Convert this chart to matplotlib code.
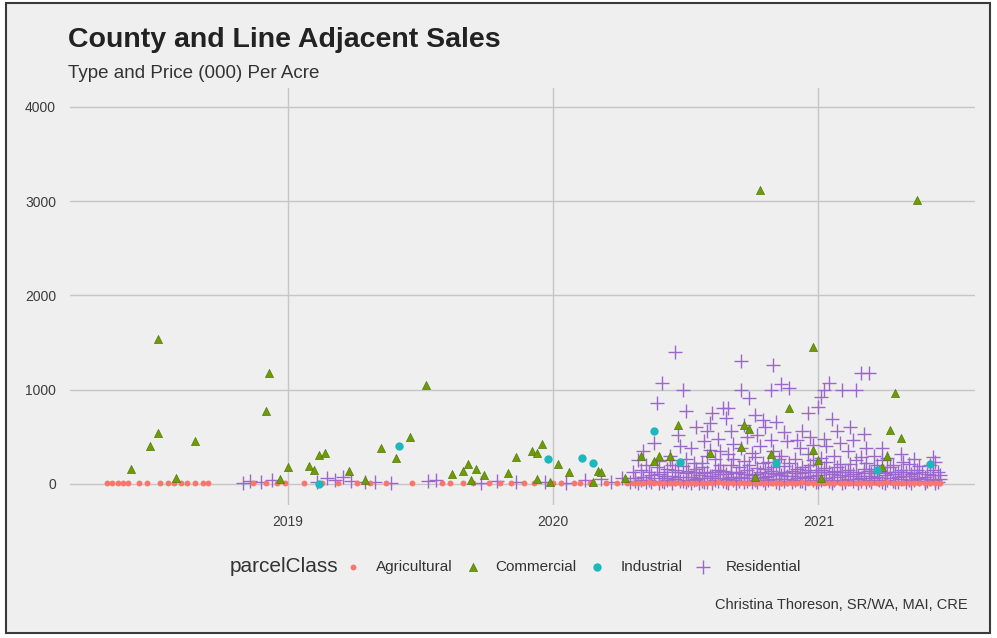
import matplotlib
matplotlib.use("Agg")
import matplotlib.pyplot as plt
from matplotlib.patches import Rectangle

plt.rcParams['font.family'] = ['Liberation Sans', 'DejaVu Sans']

# values: (decimal year, price per acre in 000)
agricultural = [
    (2018.32, 10), (2018.34, 5), (2018.36, 12), (2018.38, 8), (2018.40, 6), (2018.44, 10),
    (2018.47, 5), (2018.52, 8), (2018.55, 12), (2018.57, 6), (2018.60, 10), (2018.62, 4),
    (2018.65, 9), (2018.68, 7), (2018.70, 11),
    (2018.87, 6), (2018.92, 10), (2018.96, 8), (2018.99, 12),
    (2019.06, 8), (2019.13, 5), (2019.19, 10), (2019.26, 6), (2019.31, 12), (2019.37, 8), (2019.47, 6),
    (2019.58, 9), (2019.61, 5), (2019.66, 12), (2019.70, 7), (2019.76, 10), (2019.80, 6),
    (2019.84, 12), (2019.89, 8), (2019.93, 5),
    (2020.00, 10), (2020.03, 6), (2020.08, 12), (2020.10, 8), (2020.14, 5), (2020.20, 10), (2020.24, 7),
    (2020.28, 8), (2020.30, 12), (2020.32, 5), (2020.34, 10), (2020.36, 14), (2020.38, 6),
    (2020.40, 9), (2020.42, 4), (2020.44, 11), (2020.46, 7), (2020.48, 13), (2020.50, 5),
    (2020.52, 10), (2020.54, 8), (2020.56, 12), (2020.58, 4), (2020.60, 9), (2020.62, 14),
    (2020.64, 6), (2020.66, 10), (2020.68, 5), (2020.70, 12), (2020.72, 8), (2020.74, 4),
    (2020.76, 11), (2020.78, 7), (2020.80, 13), (2020.82, 5), (2020.84, 10), (2020.86, 8),
    (2020.88, 12), (2020.90, 4), (2020.92, 9), (2020.94, 14), (2020.96, 6), (2020.98, 10),
    (2021.00, 5), (2021.02, 12), (2021.04, 8), (2021.06, 4), (2021.08, 11), (2021.10, 7),
    (2021.12, 13), (2021.14, 5), (2021.16, 10), (2021.18, 8), (2021.20, 12), (2021.22, 4),
    (2021.24, 9), (2021.26, 14), (2021.28, 6), (2021.30, 10), (2021.32, 5), (2021.34, 12),
    (2021.36, 8), (2021.38, 4), (2021.40, 11), (2021.42, 7), (2021.44, 13), (2021.46, 5),
]

commercial = [
    (2018.41, 160), (2018.48, 400), (2018.51, 1540), (2018.51, 540), (2018.58, 60), (2018.65, 455),
    (2018.92, 775), (2018.93, 1175), (2018.97, 50), (2019.00, 180), (2019.08, 190), (2019.10, 150),
    (2019.12, 310), (2019.14, 330), (2019.23, 140), (2019.29, 40), (2019.35, 380), (2019.41, 275),
    (2019.46, 500), (2019.52, 1050), (2019.62, 105), (2019.66, 140), (2019.68, 210), (2019.69, 40),
    (2019.71, 160), (2019.74, 95), (2019.83, 115), (2019.86, 285), (2019.92, 350), (2019.94, 330),
    (2019.94, 50), (2019.96, 420), (2019.99, 20), (2020.02, 210), (2020.06, 125), (2020.15, 20),
    (2020.17, 140), (2020.18, 125), (2020.27, 60), (2020.33, 300), (2020.38, 245), (2020.40, 300),
    (2020.44, 300), (2020.47, 625), (2020.59, 330), (2020.71, 390), (2020.72, 625), (2020.74, 580),
    (2020.76, 75), (2020.78, 3120), (2020.82, 320), (2020.89, 800), (2020.98, 1450), (2020.98, 360),
    (2021.00, 255), (2021.01, 60), (2021.24, 180), (2021.26, 290), (2021.27, 570), (2021.29, 965),
    (2021.31, 490), (2021.37, 3010),
]

industrial = [
    (2019.12, 0), (2019.42, 400), (2019.98, 265), (2020.11, 275), (2020.15, 225), (2020.38, 560),
    (2020.48, 235), (2020.84, 225), (2021.22, 150), (2021.42, 210),
]

residential = [
    (2018.83, 10), (2018.86, 25), (2018.90, 15), (2018.94, 35), (2019.11, 20), (2019.15, 60),
    (2019.18, 40), (2019.21, 75), (2019.24, 30), (2019.29, 20), (2019.33, 15), (2019.39, 10),
    (2019.53, 25), (2019.56, 45), (2019.73, 10), (2019.79, 30), (2019.86, 15), (2019.97, 20),
    (2020.05, 10), (2020.12, 35), (2020.18, 55), (2020.22, 20), (2020.26, 65),
    (2020.29, 20), (2020.31, 60), (2020.33, 150), (2020.34, 350), (2020.32, 10), (2020.36, 40),
    (2020.37, 90), (2020.35, 200), (2020.38, 430),
    (2020.39, 860), (2020.41, 1070), (2020.40, 5), (2020.41, 30), (2020.42, 80), (2020.43, 160),
    (2020.44, 300), (2020.45, 10), (2020.46, 50), (2020.46, 1400), (2020.47, 120), (2020.44, 250),
    (2020.48, 400), (2020.47, 520),
    (2020.49, 1000), (2020.50, 775), (2020.50, 15), (2020.51, 35), (2020.52, 70), (2020.51, 140),
    (2020.53, 220), (2020.52, 380), (2020.54, 600), (2020.55, 5), (2020.56, 25), (2020.55, 60),
    (2020.57, 110), (2020.56, 180), (2020.58, 300), (2020.57, 450), (2020.58, 560),
    (2020.60, 10), (2020.61, 40), (2020.60, 80), (2020.62, 150), (2020.61, 260), (2020.63, 350),
    (2020.62, 480), (2020.59, 650), (2020.60, 750), (2020.64, 800), (2020.65, 20), (2020.66, 50),
    (2020.65, 100), (2020.67, 200), (2020.66, 320), (2020.68, 420), (2020.67, 560), (2020.65, 700),
    (2020.66, 800),
    (2020.69, 10), (2020.70, 30), (2020.71, 70), (2020.70, 130), (2020.72, 240), (2020.71, 380),
    (2020.73, 500), (2020.72, 620), (2020.71, 1000), (2020.71, 1300), (2020.74, 910), (2020.75, 15),
    (2020.76, 45), (2020.75, 90), (2020.77, 170), (2020.76, 280), (2020.78, 400), (2020.77, 520),
    (2020.79, 680), (2020.76, 730),
    (2020.80, 5), (2020.81, 35), (2020.80, 75), (2020.82, 140), (2020.81, 230), (2020.83, 350),
    (2020.82, 470), (2020.80, 600), (2020.84, 660), (2020.83, 1260), (2020.82, 1000), (2020.85, 10),
    (2020.86, 55), (2020.85, 110), (2020.87, 190), (2020.86, 300), (2020.88, 450), (2020.87, 550),
    (2020.86, 1060),
    (2020.89, 1020), (2020.90, 20), (2020.91, 40), (2020.90, 80), (2020.92, 160), (2020.91, 260),
    (2020.93, 380), (2020.92, 470), (2020.94, 560), (2020.95, 10), (2020.96, 60), (2020.95, 120),
    (2020.97, 200), (2020.96, 320), (2020.98, 410), (2020.97, 500), (2020.96, 750),
    (2021.00, 15), (2021.01, 35), (2021.00, 90), (2021.02, 170), (2021.01, 270), (2021.03, 400),
    (2021.02, 480), (2021.00, 815), (2021.01, 920), (2021.02, 1000), (2021.05, 5), (2021.06, 45),
    (2021.05, 100), (2021.07, 180), (2021.06, 300), (2021.08, 430), (2021.07, 560), (2021.05, 690),
    (2021.04, 1070),
    (2021.10, 20), (2021.11, 50), (2021.10, 120), (2021.12, 210), (2021.11, 350), (2021.13, 470),
    (2021.12, 600), (2021.09, 1000), (2021.15, 10), (2021.16, 30), (2021.15, 80), (2021.17, 160),
    (2021.16, 280), (2021.18, 380), (2021.17, 530), (2021.16, 1180), (2021.14, 1000),
    (2021.20, 15), (2021.21, 60), (2021.20, 110), (2021.22, 200), (2021.21, 300), (2021.19, 1180),
    (2021.25, 5), (2021.26, 40), (2021.25, 90), (2021.27, 180), (2021.26, 270), (2021.24, 380),
    (2021.30, 20), (2021.31, 50), (2021.30, 120), (2021.32, 230), (2021.31, 320), (2021.35, 10),
    (2021.36, 40), (2021.35, 80), (2021.37, 150), (2021.36, 260),
    (2021.40, 5), (2021.41, 30), (2021.40, 70), (2021.42, 200), (2021.43, 280), (2021.45, 15),
    (2021.46, 50), (2021.45, 120), (2021.44, 230),
    (2020.31, 30), (2020.34, 70), (2020.37, 20), (2020.40, 100), (2020.43, 45), (2020.45, 85),
    (2020.48, 25), (2020.50, 110), (2020.53, 40), (2020.55, 90), (2020.58, 20), (2020.60, 60),
    (2020.63, 100), (2020.64, 30), (2020.67, 75), (2020.69, 115), (2020.72, 20), (2020.74, 60),
    (2020.77, 100), (2020.79, 35), (2020.81, 85), (2020.84, 20), (2020.86, 95), (2020.88, 50),
    (2020.91, 110), (2020.93, 25), (2020.95, 70), (2020.98, 40), (2021.00, 120), (2021.03, 60),
    (2021.05, 25), (2021.08, 90), (2021.10, 40), (2021.13, 100), (2021.15, 55), (2021.18, 20),
    (2021.20, 85), (2021.23, 45), (2021.25, 110), (2021.28, 30), (2021.30, 75), (2021.33, 20),
    (2021.35, 100), (2021.38, 50), (2021.40, 25), (2021.43, 90), (2021.44, 40),
    (2020.30, 130), (2020.32, 250), (2020.33, 45), (2020.35, 15), (2020.36, 120), (2020.38, 65),
    (2020.39, 180), (2020.40, 240), (2020.42, 15), (2020.42, 130), (2020.43, 60), (2020.45, 200),
    (2020.46, 150), (2020.47, 70), (2020.49, 30), (2020.49, 190), (2020.50, 260), (2020.52, 10),
    (2020.53, 120), (2020.54, 160), (2020.54, 50), (2020.56, 220), (2020.57, 15), (2020.58, 130),
    (2020.59, 80), (2020.59, 360), (2020.61, 120), (2020.62, 30), (2020.63, 200), (2020.64, 140),
    (2020.64, 60), (2020.66, 10), (2020.67, 130), (2020.68, 40), (2020.68, 260), (2020.70, 180),
    (2020.70, 60), (2020.72, 100), (2020.73, 150), (2020.73, 30), (2020.74, 200), (2020.75, 330),
    (2020.77, 20), (2020.78, 130), (2020.78, 60), (2020.79, 220), (2020.80, 160), (2020.81, 110),
    (2020.83, 50), (2020.83, 180), (2020.84, 100), (2020.85, 260), (2020.87, 30), (2020.87, 130),
    (2020.88, 80), (2020.89, 220), (2020.90, 140), (2020.92, 60), (2020.93, 110), (2020.94, 180),
    (2020.94, 30), (2020.96, 150), (2020.97, 80), (2020.98, 250), (2020.99, 130), (2020.99, 20),
    (2021.01, 150), (2021.02, 60), (2021.03, 230), (2021.04, 130), (2021.04, 30), (2021.06, 140),
    (2021.07, 70), (2021.08, 210), (2021.09, 120), (2021.09, 10), (2021.11, 150), (2021.12, 80),
    (2021.13, 30), (2021.14, 250), (2021.14, 130), (2021.16, 60), (2021.17, 110), (2021.18, 220),
    (2021.19, 140), (2021.19, 40), (2021.21, 160), (2021.22, 70), (2021.23, 130), (2021.24, 20),
    (2021.24, 250), (2021.26, 120), (2021.27, 60), (2021.28, 200), (2021.29, 100), (2021.29, 20),
    (2021.31, 150), (2021.32, 80), (2021.33, 130), (2021.34, 40), (2021.34, 210), (2021.36, 110),
    (2021.37, 60), (2021.38, 190), (2021.39, 130), (2021.41, 100), (2021.42, 50), (2021.43, 150),
    (2021.44, 10), (2021.46, 90),
]

year_ticks = [2019, 2020, 2021]
price_ticks = [0, 1000, 2000, 3000, 4000]

bg = "#efefef"
grid_col = "#c6c6c6"

fig = plt.figure(figsize=(9.97, 6.38), dpi=100)
fig.patch.set_facecolor("white")
frame = Rectangle((6 / 997, 5 / 638), 984 / 997, 630 / 638, transform=fig.transFigure,
                  facecolor=bg, edgecolor="#3a3a3a", linewidth=1.5, zorder=-10)
fig.patches.append(frame)

ax = fig.add_axes([70 / 997, 1 - 505 / 638, 905 / 997, 417 / 638])
ax.set_zorder(2)
ax.set_facecolor(bg)


def unzip(pts):
    return [p[0] for p in pts], [p[1] for p in pts]


x, y = unzip(residential)
h_res = ax.scatter(x, y, marker="+", s=105, linewidths=1.0, color="#9d66cc", zorder=3)
x, y = unzip(agricultural)
h_agr = ax.scatter(x, y, marker="o", s=18, color="#f8766d", linewidths=0, zorder=4)
x, y = unzip(commercial)
h_com = ax.scatter(x, y, marker="^", s=34, color="#6d9c08", edgecolors="#557a05", linewidths=0.5, zorder=5)
x, y = unzip(industrial)
h_ind = ax.scatter(x, y, marker="o", s=36, color="#1bb8bd", linewidths=0, zorder=5)

ax.set_xlim(2018.18, 2021.59)
ax.set_ylim(-225, 4200)
ax.set_xticks(year_ticks)
ax.set_xticklabels([str(t) for t in year_ticks])
ax.set_yticks(price_ticks)
ax.grid(True, color=grid_col, linewidth=1.0)
ax.set_axisbelow(True)
for s in ax.spines.values():
    s.set_visible(False)
ax.tick_params(axis="y", length=0, labelsize=10, colors="#3c3c3c", pad=10)
ax.tick_params(axis="x", length=0, labelsize=10, colors="#3c3c3c", pad=7)

fig.text(68 / 997, 1 - 40 / 638, "County and Line Adjacent Sales", fontsize=20.5, fontweight="bold",
         color="#222222", va="center", ha="left")
fig.text(68 / 997, 1 - 73 / 638, "Type and Price (000) Per Acre", fontsize=13.5, color="#333333",
         va="center", ha="left")

fig.text(230 / 997, 1 - 567 / 638, "parcelClass", fontsize=15, color="#333333", va="center", ha="left")
fig.legend([h_agr, h_com, h_ind, h_res], ["Agricultural", "Commercial", "Industrial", "Residential"],
           loc="center left", bbox_to_anchor=(345 / 997, 1 - 567 / 638), ncol=4, frameon=False,
           fontsize=11, handlelength=1.0, handletextpad=1.0, columnspacing=0.85, borderpad=0,
           borderaxespad=0, labelcolor="#333333")

fig.text(968 / 997, 1 - 605 / 638, "Christina Thoreson, SR/WA, MAI, CRE", fontsize=10.5,
         color="#333333", va="center", ha="right")

fig.savefig("out.png", dpi=100, facecolor=fig.get_facecolor())
